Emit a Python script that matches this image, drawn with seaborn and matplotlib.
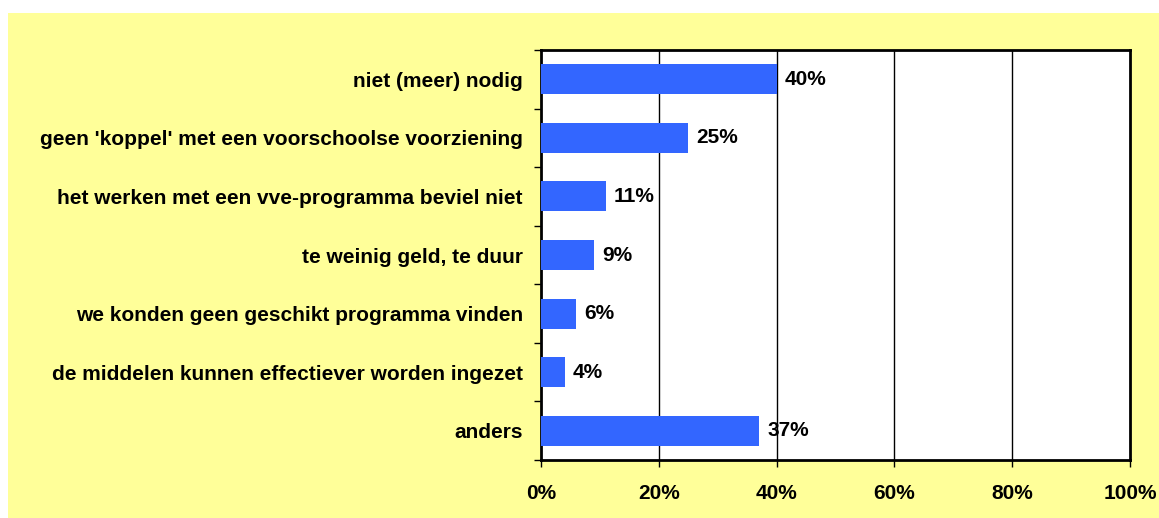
import matplotlib
matplotlib.use("Agg")
import matplotlib.pyplot as plt
import seaborn as sns
import pandas as pd
from matplotlib.patches import Rectangle
from matplotlib.ticker import FixedLocator, PercentFormatter

categories = [
    "niet (meer) nodig",
    "geen 'koppel' met een voorschoolse voorziening",
    "het werken met een vve-programma beviel niet",
    "te weinig geld, te duur",
    "we konden geen geschikt programma vinden",
    "de middelen kunnen effectiever worden ingezet",
    "anders",
]
values = [40, 25, 11, 9, 6, 4, 37]
xticks = [0, 20, 40, 60, 80, 100]

sns.set_theme(style="white")
plt.rcParams['font.family'] = ['Liberation Sans', 'DejaVu Sans']
plt.rcParams['font.weight'] = 'bold'

df = pd.DataFrame({"cat": categories, "val": values})

FS = 15

fig = plt.figure(figsize=(11.59, 5.18), dpi=100)
fig.patch.set_facecolor("white")
fig.patches.append(Rectangle((8 / 1159, 0), 1 - 8 / 1159, (518 - 13) / 518,
                             transform=fig.transFigure, facecolor="#FFFF99",
                             edgecolor="none", zorder=-10))

ax = fig.add_axes([541 / 1159, 1 - 460 / 518, (1130 - 541) / 1159, (460 - 50) / 518])
ax.set_facecolor("white")

sns.barplot(data=df, x="val", y="cat", orient="h", color="#3366FF",
            saturation=1, width=0.51, ax=ax, zorder=3, edgecolor="none", linewidth=0)

ax.set_xlim(0, 100)
ax.set_ylim(len(categories) - 0.5, -0.5)
ax.set_xticks(xticks)
ax.xaxis.set_major_formatter(PercentFormatter(decimals=0))
ax.set_xlabel("")
ax.set_ylabel("")

for x in xticks[1:-1]:
    ax.axvline(x, color="black", lw=1, zorder=1)

for s in ax.spines.values():
    s.set_color("black")
    s.set_linewidth(2)
    s.set_visible(True)

ax.tick_params(axis="y", which="major", length=0, pad=13, labelsize=FS, labelcolor="black")
ax.yaxis.set_minor_locator(FixedLocator([i + 0.5 for i in range(-1, len(categories))]))
ax.tick_params(axis="y", which="minor", length=5, width=1, color="black", direction="out", left=True)
ax.tick_params(axis="x", which="major", length=5, width=1, color="black", direction="out",
               bottom=True, pad=12, labelsize=FS, labelcolor="black")
for lbl in ax.get_yticklabels() + ax.get_xticklabels():
    lbl.set_fontweight("bold")

for i, v in enumerate(values):
    ax.text(v + 1.4, i, f"{v}%", va="center", ha="left", fontsize=FS,
            fontweight="bold", color="black", zorder=4)

fig.savefig("out.png", dpi=100, facecolor=fig.get_facecolor())
